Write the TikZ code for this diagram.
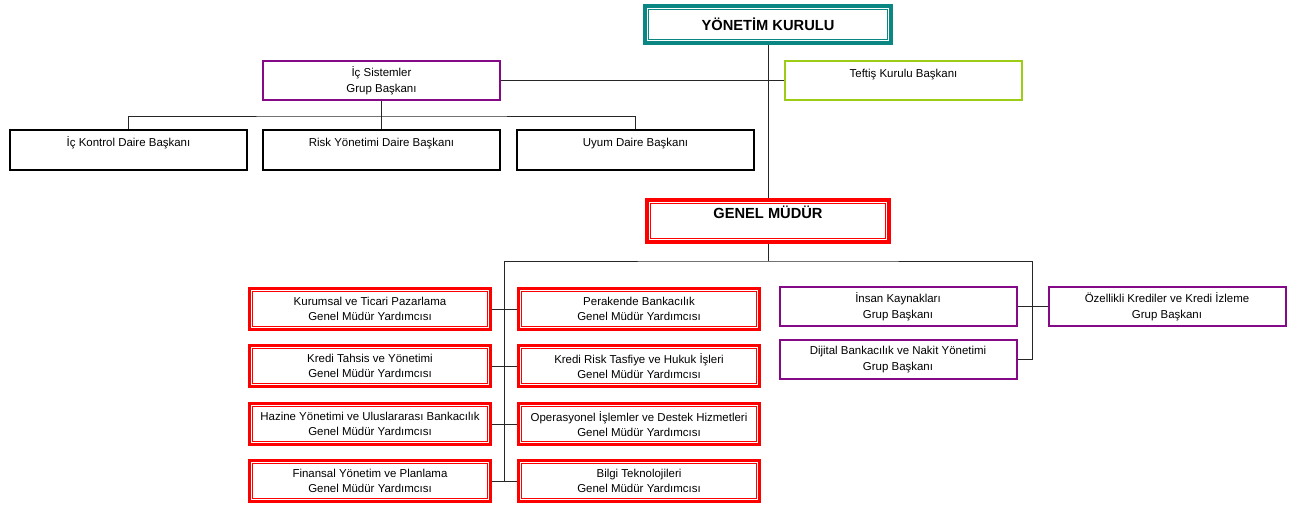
\documentclass[tikz,border=0pt]{standalone}
\usepackage{fontspec}
\setmainfont{Liberation Sans}
\usepackage{tikz}
\definecolor{ykteal}{HTML}{0A8783}
\definecolor{grupmor}{HTML}{850A87}
\definecolor{teftisyesil}{HTML}{9CCC14}

\begin{document}
\begin{tikzpicture}
                \tikzset{x={(0.75pt, 0pt)}, y={(0pt, -0.75pt)}}
                \tikzset{
                    kutu/.style={rectangle, align=center, inner sep=0pt, font=\fontsize{8.6}{11.7}\selectfont},
                    gmy/.style={kutu, draw=red, line width=2.1pt, minimum width=181pt, minimum height=31pt},
                    grup/.style={kutu, draw=grupmor, line width=1.5pt, minimum width=177.75pt, minimum height=29.25pt},
                    daire/.style={kutu, draw=black, line width=1.8pt, minimum width=177.4pt, minimum height=29.6pt},
                    ust/.style={kutu, line width=3.4pt, font=\fontsize{11}{13}\selectfont\bfseries},
                    tekhat/.style={text height=12pt, text depth=#1},
                    tekhat/.default=17.25pt,
                    baglanti/.style={draw=black!85, line width=0.75pt}
                }
                \useasboundingbox (0, 0) rectangle (1294, 504);
                \node[ust, draw=ykteal, minimum width=184.5pt, minimum height=27.75pt] (yk) at (768, 24.5) {YÖNETİM KURULU};
                \node[grup] (icsis) at (381.5, 80.5) {İç Sistemler\\Grup Başkanı};
                \node[grup, draw=teftisyesil, tekhat] (teftis) at (903.5, 80.5) {Teftiş Kurulu Başkanı};
                \node[daire, tekhat=17.6pt] (ickontrol) at (128.5, 150) {İç Kontrol Daire Başkanı};
                \node[daire, tekhat=17.6pt] (risk) at (381.5, 150) {Risk Yönetimi Daire Başkanı};
                \node[daire, tekhat=17.6pt] (uyum) at (635.5, 150) {Uyum Daire Başkanı};
                \node[ust, draw=red, minimum width=181.5pt, minimum height=31.5pt, text height=14pt, text depth=17.5pt] (gm) at (768, 221) {GENEL MÜDÜR};
                \node[gmy] (kurumsal) at (370, 309) {Kurumsal ve Ticari Pazarlama\\Genel Müdür Yardımcısı};
                \node[gmy] (perakende) at (639, 309) {Perakende Bankacılık\\Genel Müdür Yardımcısı};
                \node[gmy] (tahsis) at (370, 366) {Kredi Tahsis ve Yönetimi\\Genel Müdür Yardımcısı};
                \node[gmy] (tasfiye) at (639, 366) {Kredi Risk Tasfiye ve Hukuk İşleri\\Genel Müdür Yardımcısı};
                \node[gmy] (hazine) at (370, 424) {Hazine Yönetimi ve Uluslararası Bankacılık\\Genel Müdür Yardımcısı};
                \node[gmy] (operasyon) at (639, 424) {Operasyonel İşlemler ve Destek Hizmetleri\\Genel Müdür Yardımcısı};
                \node[gmy] (finans) at (370, 481) {Finansal Yönetim ve Planlama\\Genel Müdür Yardımcısı};
                \node[gmy] (bilgi) at (639, 481) {Bilgi Teknolojileri\\Genel Müdür Yardımcısı};
                \node[grup] (ik) at (898, 306.5) {İnsan Kaynakları\\Grup Başkanı};
                \node[grup] (dijital) at (898, 359.5) {Dijital Bankacılık ve Nakit Yönetimi\\Grup Başkanı};
                \node[grup] (ozel) at (1167, 306.5) {Özellikli Krediler ve Kredi İzleme\\Grup Başkanı};
                \draw[ykteal, line width=0.7pt] (yk.south west) ++(4.4pt, 4.4pt) rectangle ([xshift=-4.4pt, yshift=-4.4pt]yk.north east);
                \draw[red, line width=0.7pt] (gm.south west) ++(4.4pt, 4.4pt) rectangle ([xshift=-4.4pt, yshift=-4.4pt]gm.north east);
                \foreach \kutuadi in {kurumsal, perakende, tahsis, tasfiye, hazine, operasyon, finans, bilgi}
                    \draw[red, line width=0.7pt] (\kutuadi.south west) ++(3.4pt, 3.4pt) rectangle ([xshift=-3.4pt, yshift=-3.4pt]\kutuadi.north east);
                \coordinate (ibar) at (381.5, 116);
                \coordinate (gbar) at (768, 261);
                \coordinate (lspine) at (504.5, 481);
                \coordinate (rspine) at (1032, 359.5);
                \draw[baglanti] (yk.south) -- (gm.north);
                \draw[baglanti] (icsis.east) -- (teftis.west);
                \draw[baglanti] (icsis.south) -- (risk.north);
                \draw[baglanti] (ickontrol.north) |- (ibar) -| (uyum.north);
                \draw[baglanti] (gm.south) -- (gbar);
                \draw[baglanti] (lspine) |- (gbar) -| (rspine);
                \draw[baglanti] (kurumsal.east) -- (perakende.west);
                \draw[baglanti] (tahsis.east) -- (tasfiye.west);
                \draw[baglanti] (hazine.east) -- (operasyon.west);
                \draw[baglanti] (finans.east) -- (bilgi.west);
                \draw[baglanti] (ik.east) -- (ozel.west);
                \draw[baglanti] (dijital.east) -- (rspine);
            \end{tikzpicture}
\end{document}
